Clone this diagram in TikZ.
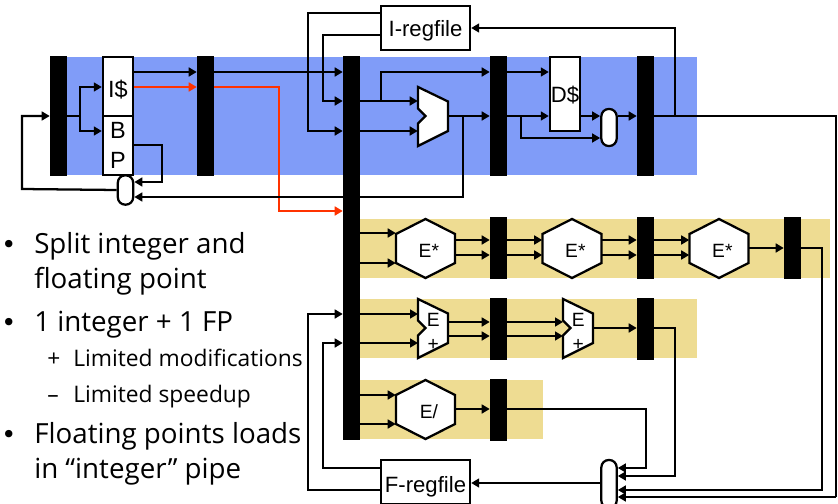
\documentclass[tikz,border=0pt]{standalone}
\usepackage{xcolor}
\usepackage{fontspec}
\setmainfont{Liberation Sans}
\newfontfamily\bulletfont{Open Sans}
\newfontfamily\dotfont{DejaVu Sans}
\usetikzlibrary{arrows.meta, positioning}
\definecolor{intblue}{HTML}{809CF8}
\definecolor{fpyellow}{HTML}{EEDC92}
\definecolor{wirered}{HTML}{FF3300}
\tikzstyle{pipebar} = [rectangle, draw=none, fill=black, inner sep=0pt, minimum width=12.75pt, minimum height=90pt]
\tikzstyle{mainbar} = [pipebar, minimum height=288pt]
\tikzstyle{rowbar}  = [pipebar, minimum height=46.5pt]
\tikzstyle{block}   = [rectangle, draw=black, line width=1.7pt, fill=white, inner sep=0pt, font=\fontsize{16.6}{19}\selectfont, text centered]
\tikzstyle{muxbox}  = [rectangle, rounded corners=5.5pt, draw=black, line width=1.7pt, fill=white, inner sep=0pt, minimum width=11.5pt]
\tikzstyle{unit}    = [draw=black, line width=1.7pt, fill=white, line join=miter]
\tikzstyle{unittext} = [inner sep=0pt, font=\fontsize{14.4}{18}\selectfont, align=center]
\tikzstyle{arrow}   = [line width=1.7pt,-{Triangle[length=6pt,width=6.6pt]}]
\tikzstyle{wire}    = [line width=1.7pt]
\tikzstyle{redarrow} = [arrow, line width=2pt, draw=wirered, -{Triangle[length=6pt,width=6.6pt,fill=wirered]}]
\tikzstyle{bullettext} = [inner sep=0pt, anchor=base west, font=\bulletfont\fontsize{20.8}{24}\selectfont]
\tikzstyle{bulletdot} = [inner sep=0pt, anchor=base west, font=\dotfont\fontsize{19}{24}\selectfont]
\tikzstyle{subtext} = [inner sep=0pt, anchor=base west, font=\bulletfont\fontsize{17.1}{20}\selectfont]
% hexagon unit: name, centre, label
\newcommand{\hexunit}[3]{
\draw [unit] (#2) ++(-29.5,-14.5) -- ++(29.5,-15) -- ++(29.5,15) -- ++(0,29) -- ++(-29.5,15) -- ++(-29.5,-15) -- cycle;
\node (#1) [unittext, text height=14pt, text depth=0pt, minimum width=44.25pt, minimum height=44.25pt] at (#2) {\hspace*{5pt}#3};
}
% mux-like adder outline: name, top left corner, label
\newcommand{\aluunit}[3]{
\draw [unit] (#2) -- ++(30,14.5) -- ++(0,29.5) -- ++(-30,15) -- ++(0,-22.5) -- ++(7.5,-7.5) -- ++(-7.5,-7.5) -- cycle;
\node (#1) [unittext, anchor=north west, yshift=-2.6pt, minimum width=22.5pt, minimum height=44.25pt] at (#2) {#3};
}

\begin{document}
\begin{tikzpicture}[x=0.75pt, y=-0.75pt, node distance=110.25pt]
\useasboundingbox (0,0) rectangle (838,503);

% pipeline bands
\fill [intblue] (50,57) rectangle (697,175);
\fill [fpyellow] (360,219) rectangle (830,278);
\fill [fpyellow] (360,299) rectangle (697,358);
\fill [fpyellow] (360,380) rectangle (543,439);

% long wires go behind the bars
\coordinate (fbturn) at (463,197);
\coordinate (wbtop) at (675,28);
\coordinate (wbright) at (836,116);
\coordinate (wbcorner) at (836,497);

% pipeline latches
\node (fetchbar) [pipebar] at (58.5,116) {};
\node (decbar) [pipebar, right of=fetchbar] {};
\node (dispbar) [mainbar, right of=decbar, xshift=-0.75pt, yshift=-99pt] {};
\node (membar) [pipebar, right of=dispbar, yshift=99pt] {};
\node (wbbar) [pipebar, right of=membar] {};

\node (mulbarA) [rowbar] at (498.5,248) {};
\node (mulbarB) [rowbar, right of=mulbarA] {};
\node (mulbarC) [rowbar, right of=mulbarB] {};
\node (addbarA) [rowbar] at (498.5,328.5) {};
\node (addbarB) [rowbar, right of=addbarA] {};
\node (divbar) [rowbar] at (498.5,409.5) {};

% blocks
\node (icache) [block, text height=16pt, text depth=0pt, font=\fontsize{17.6}{19}\selectfont, minimum width=22.5pt, minimum height=44.25pt] at (118,86.5) {I\$};
\node (bpred) [block, minimum width=22.5pt, minimum height=44.25pt, align=center, font=\fontsize{17.6}{22.5}\selectfont] at (118,145.5) {B\\P};
\node (dcache) [block, text height=13.5pt, text depth=0pt, minimum width=22.5pt, minimum height=55.5pt] at (565,94) {D\$};
\node (iregfile) [block, text height=13.5pt, text depth=0pt, minimum width=66.75pt, minimum height=33pt] at (425.5,28) {I-regfile};
\node (fregfile) [block, text height=15pt, text depth=0pt, minimum width=66.75pt, minimum height=33pt] at (425.5,482) {F-regfile};
\node (pcmux) [muxbox, minimum height=22pt] at (125.5,190) {};
\node (memmux) [muxbox, minimum height=27.75pt] at (609,127.5) {};
\node (fpmux) [muxbox, minimum height=36pt] at (609,484) {};

\draw [unit] (418,87) -- ++(30,14.5) -- ++(0,29.5) -- ++(-30,15) -- ++(0,-22.5) -- ++(7.5,-7.5) -- ++(-7.5,-7.5) -- cycle;
\node (alu) [inner sep=0pt, minimum width=22.5pt, minimum height=44.25pt] at (433,116.5) {};

\hexunit{mulA}{425.5,248.5}{E*}
\hexunit{mulB}{572,248.5}{E*}
\hexunit{mulC}{719,248.5}{E*}
\hexunit{divunit}{425.5,409.5}{E/}
\aluunit{addA}{418,299}{E\\+}
\aluunit{addB}{563,299}{E\\+}

% fetch
\draw [wire] (fetchbar.east |- 0,116) -- (80,116);
\draw [arrow] (80,116) |- (icache.west |- 0,87);
\draw [arrow] (80,116) |- (bpred.west |- 0,131);
\draw [arrow] (icache.east |- 0,72) -- (decbar.west |- 0,72);
\draw [redarrow] (icache.east |- 0,87) -- (decbar.west |- 0,87);
\draw [arrow] (bpred.east |- 0,145) -- (162,145) -- (162,182) -- (pcmux.east |- 0,182);
\draw [arrow] (pcmux.west) -- (22,189) -- (22,116) -- (fetchbar.west |- 0,116);
\draw [arrow] (decbar.east |- 0,72) -- (dispbar.west |- 0,72);
\draw [redarrow] (decbar.east |- 0,87) -- (279,87) -- (279,211) -- (dispbar.west |- 0,211);

% integer pipe
\draw [arrow] (iregfile.west |- 0,13) -- (308,13) -- (308,131) -- (dispbar.west |- 0,131);
\draw [arrow] (iregfile.west |- 0,35) -- (323,35) -- (323,101) -- (dispbar.west |- 0,101);
\draw [arrow] (dispbar.east |- 0,101) -- (alu.west |- 0,101);
\draw [arrow] (dispbar.east |- 0,131) -- (alu.west |- 0,131);
\draw [arrow] (381,101) -- (381,72) -- (membar.west |- 0,72);
\draw [arrow] (448,116) -- (membar.west |- 0,116);
\draw [arrow] (fbturn |- 0,116) -- (fbturn) -- (pcmux.east |- 0,197);
\draw [arrow] (membar.east |- 0,72) -- (dcache.west |- 0,72);
\draw [arrow] (membar.east |- 0,116) -- (dcache.west |- 0,116);
\draw [arrow] (521,116) -- (521,138) -- (memmux.west |- 0,138);
\draw [arrow] (dcache.east |- 0,116) -- (memmux.west |- 0,116);
\draw [arrow] (memmux.east |- 0,116) -- (wbbar.west |- 0,116);
\draw [wire] (wbbar.east |- 0,116) -- (wbright) -- (wbcorner);
\draw [arrow] (wbcorner) -- (fpmux.east |- 0,497);
\draw [arrow] (wbtop |- 0,116) -- (wbtop) -- (iregfile.east |- 0,28);

% multiply row
\draw [arrow] (dispbar.east |- 0,233) -- (mulA.west |- 0,233);
\draw [arrow] (dispbar.east |- 0,263) -- (mulA.west |- 0,263);
\draw [arrow] (mulA.east |- 0,240) -- (mulbarA.west |- 0,240);
\draw [arrow] (mulA.east |- 0,255) -- (mulbarA.west |- 0,255);
\draw [arrow] (mulbarA.east |- 0,240) -- (mulB.west |- 0,240);
\draw [arrow] (mulbarA.east |- 0,255) -- (mulB.west |- 0,255);
\draw [arrow] (mulB.east |- 0,240) -- (mulbarB.west |- 0,240);
\draw [arrow] (mulB.east |- 0,255) -- (mulbarB.west |- 0,255);
\draw [arrow] (mulbarB.east |- 0,240) -- (mulC.west |- 0,240);
\draw [arrow] (mulbarB.east |- 0,255) -- (mulC.west |- 0,255);
\draw [arrow] (mulC.east |- 0,248) -- (mulbarC.west |- 0,248);
\draw [arrow] (mulbarC.east |- 0,248) -- (822,248) -- (822,490) -- (fpmux.east |- 0,490);

% add row
\draw [arrow] (dispbar.east |- 0,314) -- (addA.west |- 0,314);
\draw [arrow] (dispbar.east |- 0,343) -- (addA.west |- 0,343);
\draw [arrow] (448,322) -- (addbarA.west |- 0,322);
\draw [arrow] (448,336) -- (addbarA.west |- 0,336);
\draw [arrow] (addbarA.east |- 0,322) -- (addB.west |- 0,322);
\draw [arrow] (addbarA.east |- 0,336) -- (addB.west |- 0,336);
\draw [arrow] (593,328) -- (addbarB.west |- 0,328);
\draw [arrow] (addbarB.east |- 0,328) -- (675,328) -- (675,476) -- (fpmux.east |- 0,476);

% divide row
\draw [arrow] (dispbar.east |- 0,395) -- (divunit.west |- 0,395);
\draw [arrow] (dispbar.east |- 0,424) -- (divunit.west |- 0,424);
\draw [arrow] (divunit.east |- 0,409) -- (divbar.west |- 0,409);
\draw [arrow] (divbar.east |- 0,409) -- (646,409) -- (646,468) -- (fpmux.east |- 0,468);

% FP writeback
\draw [arrow] (fpmux.west |- 0,483) -- (fregfile.east |- 0,483);
\draw [arrow] (fregfile.west |- 0,468) -- (323,468) -- (323,343) -- (dispbar.west |- 0,343);
\draw [arrow] (fregfile.west |- 0,490) -- (308,490) -- (308,314) -- (dispbar.west |- 0,314);

% bullets
\node (bulA) [bulletdot] at (1,253) {•};
\node (txtA) [bullettext] at (34,253) {Split integer and};
\node (txtAb) [bullettext] at (34,288) {floating point};
\node (bulB) [bulletdot] at (1,331) {•};
\node (txtB) [bullettext] at (34,331) {1 integer + 1 FP};
\node (subA) [subtext] at (47,366) {\makebox[19.5pt][l]{+}Limited modifications};
\node (subB) [subtext] at (47,402) {\makebox[19.5pt][l]{–}Limited speedup};
\node (bulC) [bulletdot] at (1,443) {•};
\node (txtC) [bullettext] at (34,443) {Floating points loads};
\node (txtCb) [bullettext] at (34,478) {in “integer” pipe};
\end{tikzpicture}
\end{document}
